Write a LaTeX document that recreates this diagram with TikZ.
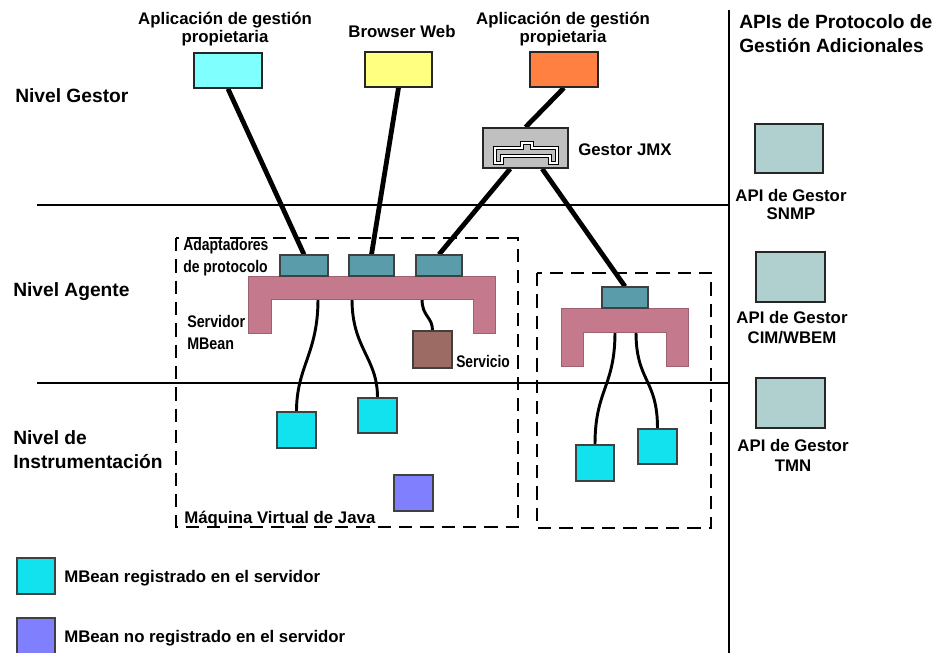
\documentclass[tikz,border=0pt]{standalone}
\usepackage{fontspec}
\setmainfont{Liberation Sans}
\usetikzlibrary{backgrounds}
\pgfdeclarelayer{links}
\pgfsetlayers{background,links,main}

\definecolor{appcyan}{HTML}{80FFFF}
\definecolor{appyellow}{HTML}{FFFF80}
\definecolor{apporange}{HTML}{FF8040}
\definecolor{jmxgray}{HTML}{C0C0C0}
\definecolor{adteal}{HTML}{5A9CAA}
\definecolor{srvpink}{HTML}{C47A8C}
\definecolor{svcbrown}{HTML}{9C6B64}
\definecolor{mbcyan}{HTML}{12E2EE}
\definecolor{mbpurple}{HTML}{8080FF}
\definecolor{apigray}{HTML}{B0D0D0}

\begin{document}
\begin{tikzpicture}[x=0.75pt,y=-0.75pt,
  sz/.style 2 args={minimum width=#1*0.75pt, minimum height=#2*0.75pt},
  box/.style={draw=black!85, line width=1.2pt, inner sep=0pt, rectangle},
  thinbox/.style={draw=black!75, line width=0.8pt, inner sep=0pt, rectangle},
  lbl/.style={font=\fontsize{12.6}{13.5}\selectfont\bfseries, inner sep=0pt, align=center},
  lvl/.style={font=\fontsize{14.4}{18}\selectfont\bfseries, inner sep=0pt, align=left, anchor=west},
  narrow/.style={font=\fontsize{12.6}{16.5}\selectfont\bfseries, inner sep=0pt, anchor=west},
  link/.style={line width=3.6pt},
  wire/.style={line width=2.2pt},
  divider/.style={line width=1.6pt},
  vmbox/.style={line width=2pt, dash pattern=on 10pt off 6pt},
  server/.style={fill=srvpink, draw=srvpink!80!black, line width=0.5pt}
]
\useasboundingbox (0,0) rectangle (940,653);

% ---- level separators, JVM frames ----
\begin{pgfonlayer}{background}
  \fill[white] (0,0) rectangle (940,653);
  \draw[divider] (37,205) -- (729,205);
  \draw[divider] (37,383) -- (729,383);
  \draw[line width=2pt] (729,10) -- (729,653);
  \draw[vmbox] (176,238) rectangle (518,527);
  \draw[vmbox] (537,273) rectangle (711,528);
\end{pgfonlayer}

% ---- level titles ----
\node[lvl] (lg) at (15,96) {Nivel Gestor};
\node[lvl] (la) at (13,292) {Nivel Agente};
\node[lvl] (li) at (13,450) {Nivel de\\Instrumentación};
\node[lvl] (lapi) at (739,34) {APIs de Protocolo de\\Gestión Adicionales};

% ---- manager applications ----
\node[box, sz={68}{35}, fill=appcyan]   (app1) at (228,70.5) {};
\node[box, sz={67}{35}, fill=appyellow] (web)  at (398.5,69.5) {};
\node[box, sz={68}{35}, fill=apporange] (app2) at (564,69.5) {};
\node[lbl] (tapp1) at (225,29) {Aplicación de gestión\\propietaria};
\node[lbl] (tweb)  at (402,31) {Browser Web};
\node[lbl] (tapp2) at (563,29) {Aplicación de gestión\\propietaria};

% ---- JMX manager, with its small server icon ----
\node[box, sz={85}{40}, fill=jmxgray] (jmx) at (525.5,148) {};
\draw[draw=black, double=white, double distance=0.9pt, line width=1pt, fill=jmxgray]
  (495,163) -- (495,148) -- (522,148) -- (522,143) -- (532,143) -- (532,148)
  -- (557,148) -- (557,163) -- (550,163) -- (550,156) -- (502,156) -- (502,163) -- cycle;
\node[lbl, anchor=west] (tjmx) at (578,150) {Gestor JMX};

% ---- MBean server (main JVM) ----
\draw[server] (248,276) -- (495,276) -- (495,333) -- (473,333) -- (473,299)
  -- (271,299) -- (271,333) -- (248,333) -- cycle;
\coordinate (s1a) at (318,299);
\coordinate (s1b) at (352,299);
\coordinate (s1c) at (422,299);
\node[thinbox, sz={48}{21}, fill=adteal] (ad1) at (304,265.5) {};
\node[thinbox, sz={45}{21}, fill=adteal] (ad2) at (371.5,265.5) {};
\node[thinbox, sz={46}{21}, fill=adteal] (ad3) at (439,265.5) {};
\node[thinbox, sz={39}{37}, fill=svcbrown] (svc) at (432.5,349.5) {};

\node[narrow] (tad) at (183,257) {\scalebox{0.83}[1]{\begin{tabular}{@{}l@{}}Adaptadores\\de protocolo\end{tabular}}};
\node[narrow] (tsrv) at (187,334) {\scalebox{0.85}[1]{\begin{tabular}{@{}l@{}}Servidor\\MBean\end{tabular}}};
\node[narrow] (tsvc) at (456,361) {\scalebox{0.82}[1]{Servicio}};

\node[thinbox, sz={39}{36}, fill=mbcyan] (mb1) at (296.5,430) {};
\node[thinbox, sz={39}{35}, fill=mbcyan] (mb2) at (377.5,415.5) {};
\node[thinbox, sz={39}{36}, fill=mbpurple] (mb5) at (413.5,493) {};
\node[lbl, anchor=west] (tjvm) at (184,519) {Máquina Virtual de Java};

% ---- MBean server (second JVM) ----
\draw[server] (561,308) -- (688,308) -- (688,366) -- (666,366) -- (666,332)
  -- (583,332) -- (583,366) -- (561,366) -- cycle;
\coordinate (s2a) at (615,332);
\coordinate (s2b) at (636,332);
\node[thinbox, sz={46}{21}, fill=adteal] (ad4) at (625,297.5) {};
\node[thinbox, sz={38}{36}, fill=mbcyan] (mb3) at (595,463) {};
\node[thinbox, sz={39}{35}, fill=mbcyan] (mb4) at (657.5,446.5) {};

% ---- additional protocol APIs ----
\node[box, sz={68}{49}, fill=apigray] (api1) at (789,148.5) {};
\node[box, sz={69}{50}, fill=apigray] (api2) at (790.5,277) {};
\node[box, sz={69}{50}, fill=apigray] (api3) at (790.5,403) {};
\node[lbl] (tapi1) at (791,204) {API de Gestor\\SNMP};
\node[lbl, font=\fontsize{12.6}{15.5}\selectfont\bfseries] (tapi2) at (792,327.5) {API de Gestor\\CIM/WBEM};
\node[lbl, font=\fontsize{12.6}{15.5}\selectfont\bfseries] (tapi3) at (793,455.5) {API de Gestor\\TMN};

% ---- legend ----
\node[thinbox, sz={38}{36}, fill=mbcyan] (leg1) at (36,576) {};
\node[thinbox, sz={38}{36}, fill=mbpurple] (leg2) at (36,636) {};
\node[lbl, anchor=west] (tleg1) at (64,578) {MBean registrado en el servidor};
\node[lbl, anchor=west] (tleg2) at (64,638) {MBean no registrado en el servidor};

% ---- connections ----
\begin{pgfonlayer}{links}
  \draw[link] (app1.south) -- (ad1.north);
  \draw[link] (web.south) -- (ad2.north);
  \draw[link] (app2.south) -- (jmx.north);
  \draw[link] ([xshift=-11.5pt]jmx.south) -- (ad3.north);
  \draw[link] ([xshift=12.5pt]jmx.south) -- (ad4.north);
  \draw[wire] (s1a) .. controls +(0,55) and +(0,-45) .. (mb1.north);
  \draw[wire] (s1b) .. controls +(0,50) and +(0,-40) .. (mb2.north);
  \draw[wire] (s1c) .. controls +(0,18) and +(0,-14) .. (svc.north);
  \draw[wire] (s2a) .. controls +(0,55) and +(0,-55) .. (mb3.north);
  \draw[wire] (s2b) .. controls +(0,50) and +(0,-50) .. (mb4.north);
\end{pgfonlayer}
\end{tikzpicture}
\end{document}
